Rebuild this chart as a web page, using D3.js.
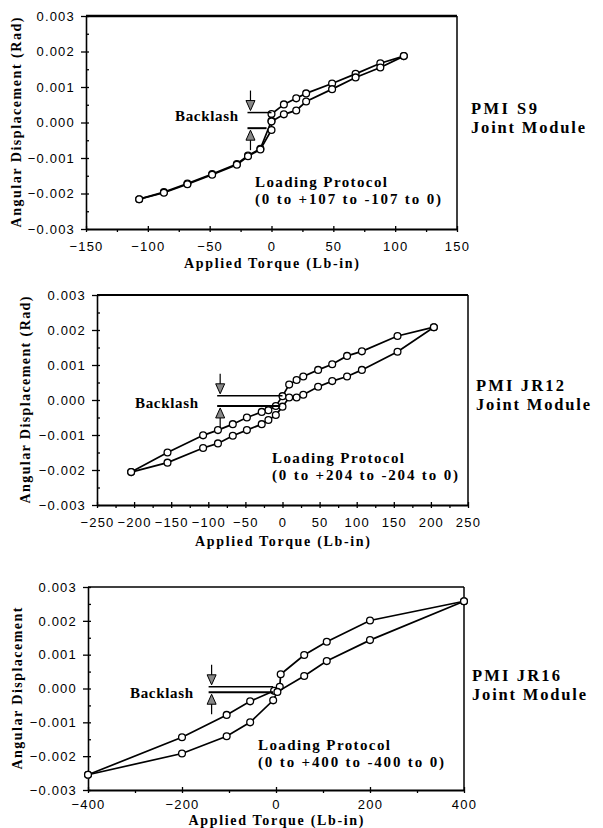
<!DOCTYPE html>
<html>
<head>
<meta charset="utf-8">
<script src="https://cdn.jsdelivr.net/npm/d3@7"></script>
<style>
body { margin: 0; background: #fff; }
svg { display: block; }
.tick text { font-family: "Liberation Sans", Arial, sans-serif; font-size: 13px; letter-spacing: 1.2px; fill: #000; }
.serif { font-family: "Liberation Serif", "Times New Roman", serif; font-weight: bold; fill: #000; }
</style>
</head>
<body>
<svg id="chart" width="603" height="828"></svg>
<script>
// PMI S9 (0 to +107 to -107 to 0)
var s9_unload_torque = [107, 88, 68, 49, 28, 20, 10, 0, 0, -9, -19, -28, -48, -68, -87, -107];
var s9_unload_disp   = [0.00187, 0.00167, 0.00137, 0.00110, 0.00082, 0.00068, 0.00051, 0.00024, 0.00005, -0.00074, -0.00093, -0.00117, -0.00145, -0.00172, -0.00196, -0.00216];
var s9_reload_torque = [-107, -87, -68, -48, -28, -19, -9, 0, 0, 10, 20, 28, 49, 68, 88, 107];
var s9_reload_disp   = [-0.00216, -0.00198, -0.00174, -0.00147, -0.00119, -0.00095, -0.00076, -0.00021, 0.00003, 0.00023, 0.00034, 0.00059, 0.00094, 0.00127, 0.00155, 0.00187];
var s9_x_ticks = [-150, -100, -50, 0, 50, 100, 150];
var s9_x_minor = [-125, -75, -25, 25, 75, 125];
var s9_backlash_x = [-17, 0, -4];
var s9_backlash_y = [0.00028, -0.00016];

// PMI JR12 (0 to +204 to -204 to 0)
var jr12_unload_torque = [204, 155, 107, 87, 67, 48, 28, 19, 9, 0, -9, -19, -28, -48, -67, -87, -107, -155, -204];
var jr12_unload_disp   = [0.00208, 0.00183, 0.00139, 0.00126, 0.00102, 0.00086, 0.00067, 0.00057, 0.00044, 0.00011, -0.00017, -0.00029, -0.00034, -0.00050, -0.00069, -0.00086, -0.00101, -0.00150, -0.00206];
var jr12_reload_torque = [-204, -155, -107, -87, -67, -48, -28, -19, -9, 0, 9, 19, 28, 48, 67, 87, 107, 155, 204];
var jr12_reload_disp   = [-0.00206, -0.00179, -0.00137, -0.00124, -0.00102, -0.00086, -0.00069, -0.00057, -0.00043, -0.00019, 0.00007, 0.00007, 0.00015, 0.00038, 0.00054, 0.00067, 0.00086, 0.00138, 0.00208];
var jr12_x_ticks = [-250, -200, -150, -100, -50, 0, 50, 100, 150, 200, 250];
var jr12_x_minor = [-225, -175, -125, -75, -25, 25, 75, 125, 175, 225];
var jr12_backlash_x = [-84, 0, -3];
var jr12_backlash_y = [0.00012, -0.00017];

// PMI JR16 (0 to +400 to -400 to 0)
var jr16_unload_torque = [400, 200, 108, 60, 10, 8, -4, -55, -105, -200, -400];
var jr16_unload_disp   = [0.00258, 0.00201, 0.00138, 0.00099, 0.00042, 0.00005, -0.00007, -0.00038, -0.00078, -0.00144, -0.00255];
var jr16_reload_torque = [-400, -200, -105, -55, -6, 3, 60, 108, 200, 400];
var jr16_reload_disp   = [-0.00255, -0.00192, -0.00141, -0.00100, -0.00035, -0.00010, 0.00037, 0.00081, 0.00143, 0.00258];
var jr16_x_ticks = [-400, -200, 0, 200, 400];
var jr16_x_minor = [-300, -100, 100, 300];
var jr16_backlash_x = [-137, -6, -6];
var jr16_backlash_y = [0.00005, -0.00011];

var y_ticks = [-0.003, -0.002, -0.001, 0, 0.001, 0.002, 0.003];
var y_minor = [-0.0025, -0.0015, -0.0005, 0.0005, 0.0015, 0.0025];

var panels = [
  { name: "PMI S9", amp: "107", x_domain: [-150, 150], x_ticks: s9_x_ticks, x_minor: s9_x_minor,
    unload: [s9_unload_torque, s9_unload_disp], reload: [s9_reload_torque, s9_reload_disp],
    bx: s9_backlash_x, by: s9_backlash_y,
    left: 86, right: 457, top: 16, bottom: 229, top_width: 2.5, x_pad: 10,
    y_title: "Angular Displacement (Rad)", y_title_x: 21, y_title_len: 210,
    x_title_y: 268, backlash_pos: [175, 121], loading_pos: [255, 187],
    module_pos: [471, 114], module_len: 66 },
  { name: "PMI JR12", amp: "204", x_domain: [-250, 250], x_ticks: jr12_x_ticks, x_minor: jr12_x_minor,
    unload: [jr12_unload_torque, jr12_unload_disp], reload: [jr12_reload_torque, jr12_reload_disp],
    bx: jr12_backlash_x, by: jr12_backlash_y,
    left: 97, right: 468, top: 295, bottom: 505, top_width: 2, x_pad: 10,
    y_title: "Angular Displacement (Rad)", y_title_x: 30, y_title_len: 207,
    x_title_y: 546, backlash_pos: [135, 408], loading_pos: [272, 463],
    module_pos: [476, 391], module_len: 88 },
  { name: "PMI JR16", amp: "400", x_domain: [-400, 400], x_ticks: jr16_x_ticks, x_minor: jr16_x_minor,
    unload: [jr16_unload_torque, jr16_unload_disp], reload: [jr16_reload_torque, jr16_reload_disp],
    bx: jr16_backlash_x, by: jr16_backlash_y,
    left: 88, right: 464, top: 587, bottom: 790, top_width: 1.5, x_pad: 7,
    y_title: "Angular Displacement", y_title_x: 22, y_title_len: 162,
    x_title_y: 825, backlash_pos: [130, 698], loading_pos: [258, 750],
    module_pos: [472, 681], module_len: 88 }
];

var svg = d3.select("#chart");

function draw_panel (p) {
  var x = d3.scaleLinear().domain(p.x_domain).range([p.left, p.right]);
  var y = d3.scaleLinear().domain([-0.003, 0.003]).range([p.bottom, p.top]);
  var g = svg.append("g");

  // frame: heavy top, thin right
  g.append("line").attr("x1", p.left).attr("x2", p.right).attr("y1", p.top).attr("y2", p.top)
    .attr("stroke", "#000").attr("stroke-width", p.top_width);
  g.append("line").attr("x1", p.right).attr("x2", p.right).attr("y1", p.top).attr("y2", p.bottom)
    .attr("stroke", "#000").attr("stroke-width", 1.5);

  // minor ticks
  g.append("g").attr("transform", "translate(0," + p.bottom + ")")
    .call(d3.axisBottom(x).tickValues(p.x_minor).tickSize(3).tickFormat(""))
    .call(function (a) { a.select(".domain").remove(); });
  g.append("g").attr("transform", "translate(" + p.left + ",0)")
    .call(d3.axisRight(y).tickValues(y_minor).tickSize(3).tickFormat(""))
    .call(function (a) { a.select(".domain").remove(); });

  // major ticks, crossing the axis line
  g.append("g").attr("transform", "translate(0," + p.bottom + ")")
    .call(d3.axisTop(x).tickValues(p.x_ticks).tickSize(3).tickFormat(""))
    .call(function (a) { a.select(".domain").remove(); });
  g.append("g").attr("transform", "translate(" + p.left + ",0)")
    .call(d3.axisRight(y).tickValues(y_ticks).tickSize(3).tickFormat(""))
    .call(function (a) { a.select(".domain").remove(); });

  var xa = g.append("g").attr("transform", "translate(0," + p.bottom + ")")
    .call(d3.axisBottom(x).tickValues(p.x_ticks).tickSize(3).tickSizeOuter(0).tickPadding(p.x_pad).tickFormat(d3.format("d")));
  xa.select(".domain").attr("stroke-width", 2.2);
  var ya = g.append("g").attr("transform", "translate(" + p.left + ",0)")
    .call(d3.axisLeft(y).tickValues(y_ticks).tickSize(5).tickSizeOuter(0).tickPadding(6).tickFormat(d3.format(".3f")));
  ya.select(".domain").attr("stroke-width", 1.6);
  g.selectAll(".tick line").attr("stroke-width", 1.3);

  // axis titles
  g.append("text").attr("class", "serif")
    .attr("x", (p.left + p.right) / 2).attr("y", p.x_title_y)
    .attr("text-anchor", "middle").attr("font-size", 14)
    .attr("textLength", 175).attr("lengthAdjust", "spacing")
    .text("Applied Torque (Lb-in)");
  g.append("text").attr("class", "serif")
    .attr("transform", "translate(" + p.y_title_x + "," + (p.top + p.bottom) / 2 + ") rotate(-90)")
    .attr("text-anchor", "middle").attr("font-size", 14)
    .attr("textLength", p.y_title_len).attr("lengthAdjust", "spacing")
    .text(p.y_title);

  // hysteresis branches
  var line = d3.line().x(function (d) { return x(d[0]); }).y(function (d) { return y(d[1]); });
  [p.unload, p.reload].forEach(function (br) {
    var pts = d3.zip(br[0], br[1]);
    g.append("path").datum(pts).attr("d", line)
      .attr("fill", "none").attr("stroke", "#000").attr("stroke-width", 1.7);
    g.selectAll(null).data(pts).enter().append("circle")
      .attr("cx", function (d) { return x(d[0]); })
      .attr("cy", function (d) { return y(d[1]); })
      .attr("r", 3.4).attr("fill", "#fff").attr("stroke", "#000").attr("stroke-width", 1.3);
  });

  // backlash marker
  var ax = x(p.bx[0]), uy = y(p.by[0]), ly = y(p.by[1]);
  g.append("line").attr("x1", ax - 3).attr("x2", x(p.bx[1])).attr("y1", uy).attr("y2", uy)
    .attr("stroke", "#000").attr("stroke-width", 1.5);
  g.append("line").attr("x1", ax - 3).attr("x2", x(p.bx[2])).attr("y1", ly).attr("y2", ly)
    .attr("stroke", "#000").attr("stroke-width", 2);
  [[uy, -1], [ly, 1]].forEach(function (a) {
    var yy = a[0], s = a[1];
    g.append("line").attr("x1", ax).attr("x2", ax).attr("y1", yy + s * 22).attr("y2", yy + s * 8)
      .attr("stroke", "#000").attr("stroke-width", 1.2);
    g.append("path")
      .attr("d", "M" + (ax - 4.5) + "," + (yy + s * 12) + "L" + (ax + 4.5) + "," + (yy + s * 12) + "L" + ax + "," + (yy + s * 2) + "Z")
      .attr("fill", "#888").attr("stroke", "#000").attr("stroke-width", 1);
  });

  g.append("text").attr("class", "serif").attr("x", p.backlash_pos[0]).attr("y", p.backlash_pos[1])
    .attr("font-size", 15).attr("textLength", 63).attr("lengthAdjust", "spacing").text("Backlash");
  g.append("text").attr("class", "serif").attr("x", p.loading_pos[0]).attr("y", p.loading_pos[1])
    .attr("font-size", 15).attr("textLength", 132).attr("lengthAdjust", "spacing").text("Loading Protocol");
  g.append("text").attr("class", "serif").attr("x", p.loading_pos[0]).attr("y", p.loading_pos[1] + 17)
    .attr("font-size", 15).attr("textLength", 186).attr("lengthAdjust", "spacing")
    .text("(0 to +" + p.amp + " to -" + p.amp + " to 0)");

  g.append("text").attr("class", "serif").attr("x", p.module_pos[0]).attr("y", p.module_pos[1])
    .attr("font-size", 16.5).attr("textLength", p.module_len).attr("lengthAdjust", "spacing").text(p.name);
  g.append("text").attr("class", "serif").attr("x", p.module_pos[0]).attr("y", p.module_pos[1] + 19)
    .attr("font-size", 16.5).attr("textLength", 114).attr("lengthAdjust", "spacing").text("Joint Module");
}

panels.forEach(draw_panel);
</script>
</body>
</html>
